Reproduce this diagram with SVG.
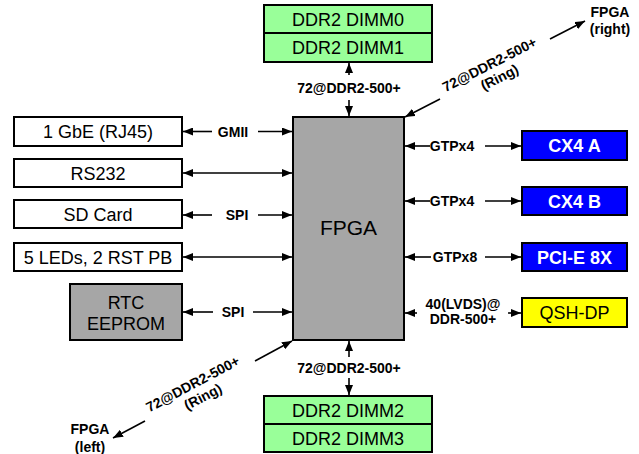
<svg xmlns="http://www.w3.org/2000/svg" width="639" height="454" viewBox="0 0 639 454">
<defs>
<marker id="ah" viewBox="0 0 10 8" refX="10" refY="4" markerWidth="10" markerHeight="8" markerUnits="userSpaceOnUse" orient="auto-start-reverse">
<path d="M0,0 L10,4 L0,8 z" fill="#000"/>
</marker>
<style>
.box{stroke:#000;stroke-width:2}
.w{fill:#fff}
.g{fill:#a6a6a6}
.gr{fill:#99ff99}
.bl{fill:#0000ff}
.ye{fill:#ffff00}
.t{font-family:"Liberation Sans",Arial,sans-serif;font-size:18px;text-anchor:middle;fill:#000}
.tw{font-family:"Liberation Sans",Arial,sans-serif;font-size:18px;font-weight:bold;text-anchor:middle;fill:#fff}
.lb{font-family:"Liberation Sans",Arial,sans-serif;font-size:14px;font-weight:bold;text-anchor:middle;fill:#000}
.c{stroke:#000;stroke-width:1.6;fill:none;marker-end:url(#ah)}
.cb{stroke:#000;stroke-width:1.6;fill:none;marker-start:url(#ah);marker-end:url(#ah)}
</style>
</defs>
<g id="connectors">
<line class="c" x1="212" y1="131.5" x2="183" y2="131.5"/>
<line class="c" x1="258" y1="131.5" x2="292" y2="131.5"/>
<line class="cb" x1="183" y1="173" x2="292" y2="173"/>
<line class="c" x1="212" y1="215" x2="183" y2="215"/>
<line class="c" x1="258" y1="215" x2="292" y2="215"/>
<line class="cb" x1="183" y1="257" x2="292" y2="257"/>
<line class="c" x1="213" y1="312" x2="183" y2="312"/>
<line class="c" x1="253" y1="312" x2="292" y2="312"/>
<line class="c" x1="430" y1="146" x2="405" y2="146"/>
<line class="c" x1="485" y1="146" x2="521" y2="146"/>
<line class="c" x1="430" y1="201" x2="405" y2="201"/>
<line class="c" x1="485" y1="201" x2="521" y2="201"/>
<line class="c" x1="431" y1="257" x2="405" y2="257"/>
<line class="c" x1="485" y1="257" x2="521" y2="257"/>
<line class="c" x1="417" y1="313" x2="405" y2="313"/>
<line class="c" x1="508" y1="313" x2="521" y2="313"/>
<line class="c" x1="349" y1="75" x2="349" y2="63"/>
<line class="c" x1="349" y1="100" x2="349" y2="116"/>
<line class="c" x1="349" y1="357" x2="349" y2="341"/>
<line class="c" x1="349" y1="378" x2="349" y2="395"/>
<line class="c" x1="440" y1="99" x2="405" y2="117"/>
<line class="c" x1="550" y1="39" x2="585" y2="21"/>
<line class="c" x1="255" y1="361" x2="292" y2="341"/>
<line class="c" x1="145" y1="421" x2="113" y2="438"/>
<text class="lb" x="233" y="136.5">GMII</text>
<text class="lb" x="237" y="220">SPI</text>
<text class="lb" x="233" y="317">SPI</text>
<text class="lb" x="452" y="151">GTPx4</text>
<text class="lb" x="452" y="206">GTPx4</text>
<text class="lb" x="455" y="262">GTPx8</text>
<text class="lb" x="463" y="309">40(LVDS)@</text>
<text class="lb" x="463" y="324">DDR-500+</text>
<text class="lb" x="349" y="93">72@DDR2-500+</text>
<text class="lb" x="349" y="373">72@DDR2-500+</text>
<g transform="translate(494,71) rotate(-27)">
<text class="lb" x="-1" y="-3">72@DDR2-500+</text>
<text class="lb" x="2" y="13">(Ring)</text>
</g>
<g transform="translate(196,390) rotate(-28)">
<text class="lb" x="0" y="-2">72@DDR2-500+</text>
<text class="lb" x="3" y="14">(Ring)</text>
</g>
<text class="lb" x="610" y="17">FPGA</text>
<text class="lb" x="610" y="34">(right)</text>
<text class="lb" x="90" y="434">FPGA</text>
<text class="lb" x="90" y="452">(left)</text>
</g>
<g id="fpga"><rect class="box g" x="293" y="117" width="111" height="223"/><text class="t" x="348.5" y="235" style="font-size:21px">FPGA</text></g>
<g id="dimm0"><rect class="box gr" x="264" y="5" width="168" height="28"/><text class="t" x="348" y="25.5">DDR2 DIMM0</text></g>
<g id="dimm1"><rect class="box gr" x="264" y="33" width="168" height="29"/><text class="t" x="348" y="54">DDR2 DIMM1</text></g>
<g id="dimm2"><rect class="box gr" x="264" y="396" width="168" height="28"/><text class="t" x="348" y="416.5">DDR2 DIMM2</text></g>
<g id="dimm3"><rect class="box gr" x="264" y="424" width="168" height="28"/><text class="t" x="348" y="444.5">DDR2 DIMM3</text></g>
<g id="gbe"><rect class="box w" x="14" y="117" width="168" height="29"/><text class="t" x="98" y="138">1 GbE (RJ45)</text></g>
<g id="rs232"><rect class="box w" x="14" y="159" width="168" height="28"/><text class="t" x="98" y="179.5">RS232</text></g>
<g id="sdcard"><rect class="box w" x="14" y="200" width="168" height="28"/><text class="t" x="98" y="220.5">SD Card</text></g>
<g id="leds"><rect class="box w" x="14" y="243" width="168" height="28"/><text class="t" x="98" y="263.5">5 LEDs, 2 RST PB</text></g>
<g id="rtc"><rect class="box g" x="70" y="284" width="112" height="56"/><text class="t" x="126" y="308.5">RTC</text><text class="t" x="126" y="329.5">EEPROM</text></g>
<g id="cx4a"><rect class="box bl" x="522" y="131" width="105" height="29"/><text class="tw" x="574.5" y="152">CX4 A</text></g>
<g id="cx4b"><rect class="box bl" x="522" y="187" width="105" height="28"/><text class="tw" x="574.5" y="207.5">CX4 B</text></g>
<g id="pcie"><rect class="box bl" x="522" y="243" width="105" height="28"/><text class="tw" x="574.5" y="263.5">PCI-E 8X</text></g>
<g id="qsh"><rect class="box ye" x="522" y="298" width="105" height="29"/><text class="t" x="574.5" y="319">QSH-DP</text></g>
</svg>
